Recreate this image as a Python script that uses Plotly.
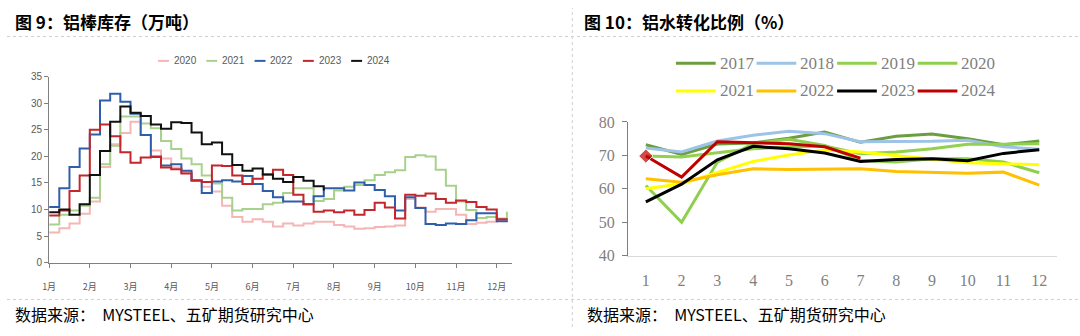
import plotly.graph_objects as go

W, H = 1080, 336

# ---------------- 图9：铝棒库存（万吨） ----------------
# weekly positions, expressed in months since 1 Jan
week_pos = [i * 0.25 for i in range(46)]
month_labels = ["1月", "2月", "3月", "4月", "5月", "6月", "7月", "8月", "9月", "10月", "11月", "12月"]

inv_2020 = [5.7, 6.5, 7.4, 9.2, 11.5, 18.0, 22.3, 24.4, 26.5, 24.0, 21.1, 19.6, 17.9, 17.0, 15.5, 14.3,
            13.4, 10.7, 8.6, 7.7, 8.2, 7.7, 6.8, 7.4, 7.0, 7.4, 7.7, 7.7, 7.1, 6.8, 6.4, 6.5,
            6.7, 6.8, 7.0, 12.0, 10.4, 9.6, 10.1, 10.1, 9.0, 7.3, 7.5, 7.7, 7.9, 7.7]
inv_2021 = [7.2, 9.0, 9.8, 10.7, 12.2, 18.5, 22.0, 27.5, 27.5, 26.2, 25.3, 22.9, 21.4, 19.6, 18.5, 16.4,
            14.9, 12.2, 9.8, 10.1, 10.1, 11.0, 11.3, 13.1, 14.0, 14.0, 11.6, 12.0, 13.6, 14.3, 14.6, 15.5,
            16.5, 17.0, 17.4, 19.9, 20.2, 20.0, 17.5, 14.5, 11.5, 9.9, 8.4, 8.6, 8.3, 9.6]
inv_2022 = [10.5, 14.0, 18.0, 21.5, 24.1, 30.5, 31.8, 30.3, 28.0, 24.0, 19.9, 18.3, 18.5, 17.3, 15.4, 13.1,
            15.3, 15.5, 15.3, 16.3, 14.8, 13.5, 12.3, 11.5, 11.5, 11.0, 12.5, 14.0, 14.0, 13.6, 15.1, 14.6,
            13.7, 12.5, 9.8, 12.3, 10.3, 7.3, 7.1, 7.4, 7.3, 8.0, 9.3, 9.3, 7.8, 8.0]
inv_2023 = [8.9, 9.8, 13.5, 16.4, 25.0, 26.0, 23.8, 20.8, 18.8, 19.8, 20.0, 17.9, 17.6, 16.8, 15.5, 15.2,
            18.3, 18.2, 16.4, 14.8, 15.8, 16.6, 17.5, 16.5, 12.8, 11.0, 9.6, 9.8, 9.5, 9.8, 9.0, 9.9,
            11.3, 10.4, 8.3, 12.8, 12.6, 13.0, 12.0, 11.3, 11.7, 11.4, 10.5, 10.0, 8.2, 8.1]
inv_2024 = [9.5, 10.0, 9.0, 11.0, 16.5, 21.0, 26.5, 29.4, 28.2, 27.6, 26.0, 25.2, 26.4, 26.3, 24.5, 22.3,
            22.6, 20.4, 18.4, 17.3, 17.7, 16.6, 15.8, 15.2, 16.1, 15.4, 14.4, 13.6]

inv_years = ["2020", "2021", "2022", "2023", "2024"]
inv_series = [inv_2020, inv_2021, inv_2022, inv_2023, inv_2024]
inv_colors = ["#f4b6b6", "#a9d18e", "#2f5fab", "#c3262c", "#111111"]

# ---------------- 图10：铝水转化比例（%） ----------------
conv_months = list(range(1, 13))
conv_2017 = [73.2, 70.3, 73.4, 73.7, 75.1, 77.0, 73.9, 75.7, 76.4, 75.0, 73.2, 74.3]
conv_2018 = [72.2, 71.0, 74.3, 76.0, 77.2, 76.5, 74.1, 74.1, 74.2, 74.5, 72.6, 71.8]
conv_2019 = [69.8, 69.5, 70.8, 72.0, 72.5, 72.8, 70.5, 71.0, 72.0, 73.3, 73.3, 73.5]
conv_2020 = [61.0, 50.0, 68.0, 73.5, 74.8, 73.0, 68.5, 68.0, 69.0, 69.0, 68.0, 64.8]
conv_2021 = [60.0, 61.5, 64.9, 68.2, 70.1, 71.6, 71.0, 70.0, 68.8, 67.8, 67.5, 67.2]
conv_2022 = [63.0, 62.0, 64.2, 66.0, 65.8, 66.0, 66.0, 65.2, 65.0, 64.7, 65.0, 61.1]
conv_2023 = [56.1, 61.4, 68.7, 72.7, 72.0, 70.7, 68.2, 68.8, 69.0, 68.4, 70.6, 71.7]
conv_2024 = [69.8, 63.5, 74.1, 73.8, 73.5, 72.6, 69.2]

conv_years = ["2017", "2018", "2019", "2020", "2021", "2022", "2023", "2024"]
conv_series = [conv_2017, conv_2018, conv_2019, conv_2020, conv_2021, conv_2022, conv_2023, conv_2024]
conv_colors = ["#6b9e3f", "#9dc3e6", "#92d050", "#8fcf4e", "#ffff00", "#ffc000", "#000000", "#c00000"]


def px(x):
    return x / W


def py(y):
    return 1 - y / H


fig = go.Figure()

for name, vals, col in zip(inv_years, inv_series, inv_colors):
    fig.add_trace(go.Scatter(
        x=week_pos[:len(vals)], y=vals, name=name, mode="lines",
        line=dict(color=col, width=2, shape="hv"),
        xaxis="x", yaxis="y", showlegend=False))

for name, vals, col in zip(conv_years, conv_series, conv_colors):
    is_last = name == "2024"
    fig.add_trace(go.Scatter(
        x=conv_months[:len(vals)], y=vals, name=name,
        mode="lines+markers" if is_last else "lines",
        line=dict(color=col, width=3),
        marker=dict(symbol="diamond", size=[11] + [0] * (len(vals) - 1), color=col) if is_last else None,
        xaxis="x2", yaxis="y2", showlegend=False))

shapes = []
annotations = []
dot = dict(color="#cfcfcf", width=1, dash="dot")
shapes.append(dict(type="line", xref="paper", yref="paper", x0=0, x1=1, y0=py(30), y1=py(30), line=dot))
shapes.append(dict(type="line", xref="paper", yref="paper", x0=0, x1=1, y0=py(307), y1=py(307), line=dot))
shapes.append(dict(type="line", xref="paper", yref="paper", x0=px(569), x1=px(569), y0=0, y1=1, line=dot))

# titles
title_font = dict(family="Noto Sans CJK SC", size=17, color="#000000")
annotations.append(dict(text="<b>图 9：铝棒库存（万吨）</b>", x=px(6), y=py(14), xref="paper", yref="paper",
                        xanchor="left", yanchor="middle", showarrow=False, font=title_font))
annotations.append(dict(text="<b>图 10：铝水转化比例（%）</b>", x=px(579), y=py(14), xref="paper", yref="paper",
                        xanchor="left", yanchor="middle", showarrow=False, font=title_font))
# sources
src_font = dict(family="Noto Sans CJK SC", size=16, color="#000000")
for sx in (6, 582):
    annotations.append(dict(text="数据来源：  MYSTEEL、五矿期货研究中心", x=px(sx), y=py(322), xref="paper",
                            yref="paper", xanchor="left", yanchor="middle", showarrow=False, font=src_font))

# legend of figure 9
for k, (name, col) in enumerate(zip(inv_years, inv_colors)):
    x0 = 152 + 48.6 * k
    shapes.append(dict(type="line", xref="paper", yref="paper", x0=px(x0), x1=px(x0 + 11),
                       y0=py(55.7), y1=py(55.7), line=dict(color=col, width=2)))
    annotations.append(dict(text=name, x=px(x0 + 14), y=py(55.7), xref="paper", yref="paper",
                            xanchor="left", yanchor="middle", showarrow=False,
                            font=dict(family="Liberation Sans", size=10, color="#595959")))

# legend of figure 10
for k, (name, col) in enumerate(zip(conv_years, conv_colors)):
    r, c = divmod(k, 4)
    x0 = 673.3 + 81.1 * c
    yy = 58.3 + 29 * r
    shapes.append(dict(type="line", xref="paper", yref="paper", x0=px(x0), x1=px(x0 + 40),
                       y0=py(yy), y1=py(yy), line=dict(color=col, width=3)))
    annotations.append(dict(text=name, x=px(x0 + 42), y=py(yy), xref="paper", yref="paper",
                            xanchor="left", yanchor="middle", showarrow=False,
                            font=dict(family="Liberation Serif", size=17, color="#7f7f7f")))

axis_gray = "#7f7f7f"
fig.update_layout(
    width=W, height=H,
    margin=dict(l=0, r=0, t=0, b=0),
    paper_bgcolor="white", plot_bgcolor="white",
    showlegend=False,
    shapes=shapes, annotations=annotations,
    xaxis=dict(domain=[px(42.4), px(508.5)], range=[0, 11.38], anchor="y",
               tickmode="array", tickvals=list(range(12)), ticktext=month_labels,
               ticks="outside", ticklen=4, tickcolor=axis_gray, showline=True, linecolor=axis_gray,
               showgrid=False, zeroline=False, ticklabelstandoff=11,
               tickfont=dict(family="Noto Sans CJK SC", size=9, color="#595959")),
    yaxis=dict(domain=[py(268.3), py(72.3)], range=[0, 35], anchor="x", dtick=5, tick0=0,
               ticks="outside", ticklen=4, tickcolor=axis_gray, showline=True, linecolor=axis_gray,
               showgrid=False, zeroline=False,
               tickfont=dict(family="Liberation Sans", size=10, color="#595959")),
    xaxis2=dict(domain=[px(625), px(1057)], range=[0.5, 12.5], anchor="y2",
                tickmode="array", tickvals=conv_months, ticks="", showline=True, linecolor="#d9d9d9",
                showgrid=False, zeroline=False, ticklabelstandoff=10,
                tickfont=dict(family="Liberation Serif", size=16, color="#7f7f7f")),
    yaxis2=dict(domain=[py(261), py(120)], range=[40, 80], anchor="x2", dtick=10, tick0=40,
                ticks="outside", ticklen=5, tickcolor=axis_gray, showline=True, linecolor=axis_gray,
                showgrid=False, zeroline=False, ticklabelstandoff=4,
                tickfont=dict(family="Liberation Serif", size=16, color="#7f7f7f")),
)

fig.write_html("out.html")
